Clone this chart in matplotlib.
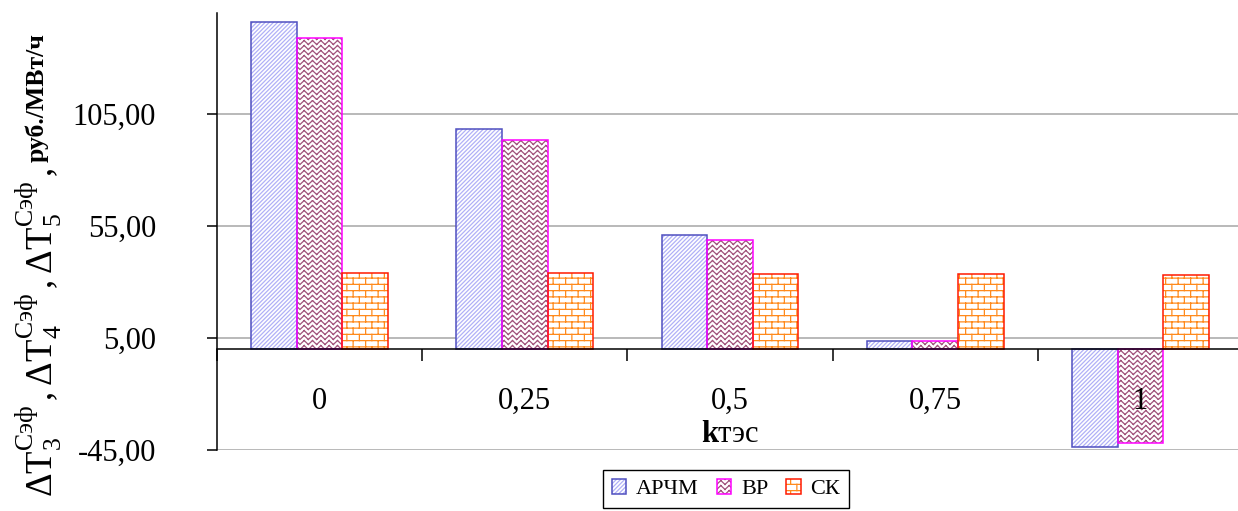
import warnings

import matplotlib

matplotlib.use("Agg")
import matplotlib.hatch as mhatch
import matplotlib.pyplot as plt
import numpy as np
from matplotlib.path import Path

warnings.filterwarnings("ignore")

# Tariff effect per regulation mode vs. share of TPP
categories = ["0", "0,25", "0,5", "0,75", "1"]
series_names = ["АРЧМ", "ВР", "СК"]
archm = [145.8, 98.3, 51.1, 3.8, -43.8]
vr = [138.9, 93.5, 48.9, 3.8, -41.7]
sk = [34.2, 34.2, 33.6, 33.6, 33.0]
y_ticks = [-45, 5, 55, 105]

W, H = 1238, 511


class SegmentHatch(mhatch.HatchPatternBase):
    """Hatch made of fixed line segments inside the unit tile."""

    symbol = None
    segments = []

    def __init__(self, hatch, density):
        self.num_vertices = 2 * len(self.segments) if self.symbol in hatch else 0

    def set_vertices_and_codes(self, vertices, codes):
        vertices[:] = np.asarray(self.segments, dtype=float).reshape(-1, 2)
        codes[0::2] = Path.MOVETO
        codes[1::2] = Path.LINETO


def brick_segments(rows=16, cols=8):
    segs = []
    dy, dx = 0.5 / rows, 0.25 / cols
    for r in range(rows):
        y0 = r / rows + dy
        y1 = y0 + 1 / rows
        segs.append(((0, y0), (1, y0)))
        shift = 0.5 * (r % 2)
        for c in range(cols):
            xv = (c + shift) / cols + dx
            segs.append(((xv, y0), (xv, min(y1, 1.0))))
            if y1 > 1.0:
                segs.append(((xv, 0.0), (xv, y1 - 1.0)))
    return segs


def weave_segments(rows=20, cols=12):
    # parallel zigzag rows, gives a herringbone-like weave
    segs = []
    amp = 0.8 / rows
    for r in range(rows):
        yb = r / rows + 0.1 / rows
        for c in range(cols):
            xa, xm, xb = c / cols, (c + 0.5) / cols, (c + 1) / cols
            segs.append(((xa, yb), (xm, yb + amp)))
            segs.append(((xm, yb + amp), (xb, yb)))
    return segs


class BrickHatch(SegmentHatch):
    symbol = "b"
    segments = brick_segments()


class WeaveHatch(SegmentHatch):
    symbol = "w"
    segments = weave_segments()


mhatch._hatch_types.extend([BrickHatch, WeaveHatch])

plt.rcParams["font.family"] = ["Liberation Serif", "DejaVu Serif"]
plt.rcParams["mathtext.fontset"] = "custom"
plt.rcParams["mathtext.rm"] = "Liberation Serif"
plt.rcParams["mathtext.it"] = "Liberation Serif"
plt.rcParams["mathtext.bf"] = "Liberation Serif:bold"
plt.rcParams["mathtext.default"] = "rm"
plt.rcParams["hatch.linewidth"] = 0.9

fig = plt.figure(figsize=(W / 100, H / 100), dpi=100)
ax = fig.add_axes([217 / W, 61 / H, 1026 / W, 437 / H])

styles = [
    {"hatch": "////////", "hatch_color": "#b0b0f7", "edge": "#4f4fc0"},
    {"hatch": "w", "hatch_color": "#a0527a", "edge": "#ff00ff"},
    {"hatch": "b", "hatch_color": "#ff8a1c", "edge": "#ff1a00"},
]

x = np.arange(len(categories))
bar_w = 0.222
handles = []
for i, (vals, st) in enumerate(zip([archm, vr, sk], styles)):
    pos = x + (i - 1) * bar_w
    fill = ax.bar(pos, vals, bar_w, color="white", edgecolor=st["hatch_color"],
                  linewidth=0, hatch=st["hatch"], zorder=1)
    edge = ax.bar(pos, vals, bar_w, fill=False, edgecolor=st["edge"],
                  linewidth=1.1, zorder=1.1)
    handles.append((fill[0], edge[0]))

ax.set_xlim(-0.5, len(categories) - 0.5)
ax.set_ylim(-45, 150)

# grid drawn under the bars, axis labels stay on top of them
ax.set_yticks(y_ticks)
ax.set_yticklabels([f"{v:.2f}".replace(".", ",") for v in y_ticks])
for v in y_ticks:
    ax.axhline(v, color="#a6a6a6", linewidth=1.1, zorder=0.5)
ax.set_axisbelow(False)

ax.set_xticks(x)
ax.set_xticklabels(categories)
ax.set_xticks(np.arange(-0.5, len(categories), 1), minor=True)

for side in ("top", "right"):
    ax.spines[side].set_visible(False)
ax.spines["bottom"].set_position(("data", 0))
ax.spines["bottom"].set_linewidth(1.1)
ax.spines["left"].set_linewidth(1.1)

ax.tick_params(axis="y", direction="out", length=7, width=1.1, pad=37,
               labelsize=22)
ax.tick_params(axis="x", which="major", length=0, pad=27, labelsize=22)
ax.tick_params(axis="x", which="minor", direction="out", length=8.6,
               width=1.1)

ax.text(0.5, 0.018, r"$\mathbf{k}$тэс", transform=ax.transAxes,
        ha="center", va="baseline", fontsize=22, zorder=5)

# vertical axis title in two parts: symbols and bold units
fig.text(53 / W, 14 / H,
         r"$\Delta T_3^{Сэф}\,,\Delta T_4^{Сэф}\,,\Delta T_5^{Сэф}\,,$",
         rotation=90, rotation_mode="anchor", ha="left", va="baseline",
         fontsize=26.5)
fig.text(44 / W, (H - 162) / H, "руб./МВт/ч", rotation=90,
         rotation_mode="anchor", ha="left", va="baseline", fontsize=18.5,
         fontweight="bold")

fig.legend(handles, series_names, loc="upper center",
           bbox_to_anchor=(726 / W, 1 - 470 / H), borderaxespad=0, ncol=3,
           fontsize=16, frameon=True, fancybox=False, edgecolor="black",
           framealpha=1, handlelength=0.65, handleheight=0.65,
           handletextpad=0.45, columnspacing=0.8, borderpad=0.4)

fig.savefig("out.png", dpi=100)
